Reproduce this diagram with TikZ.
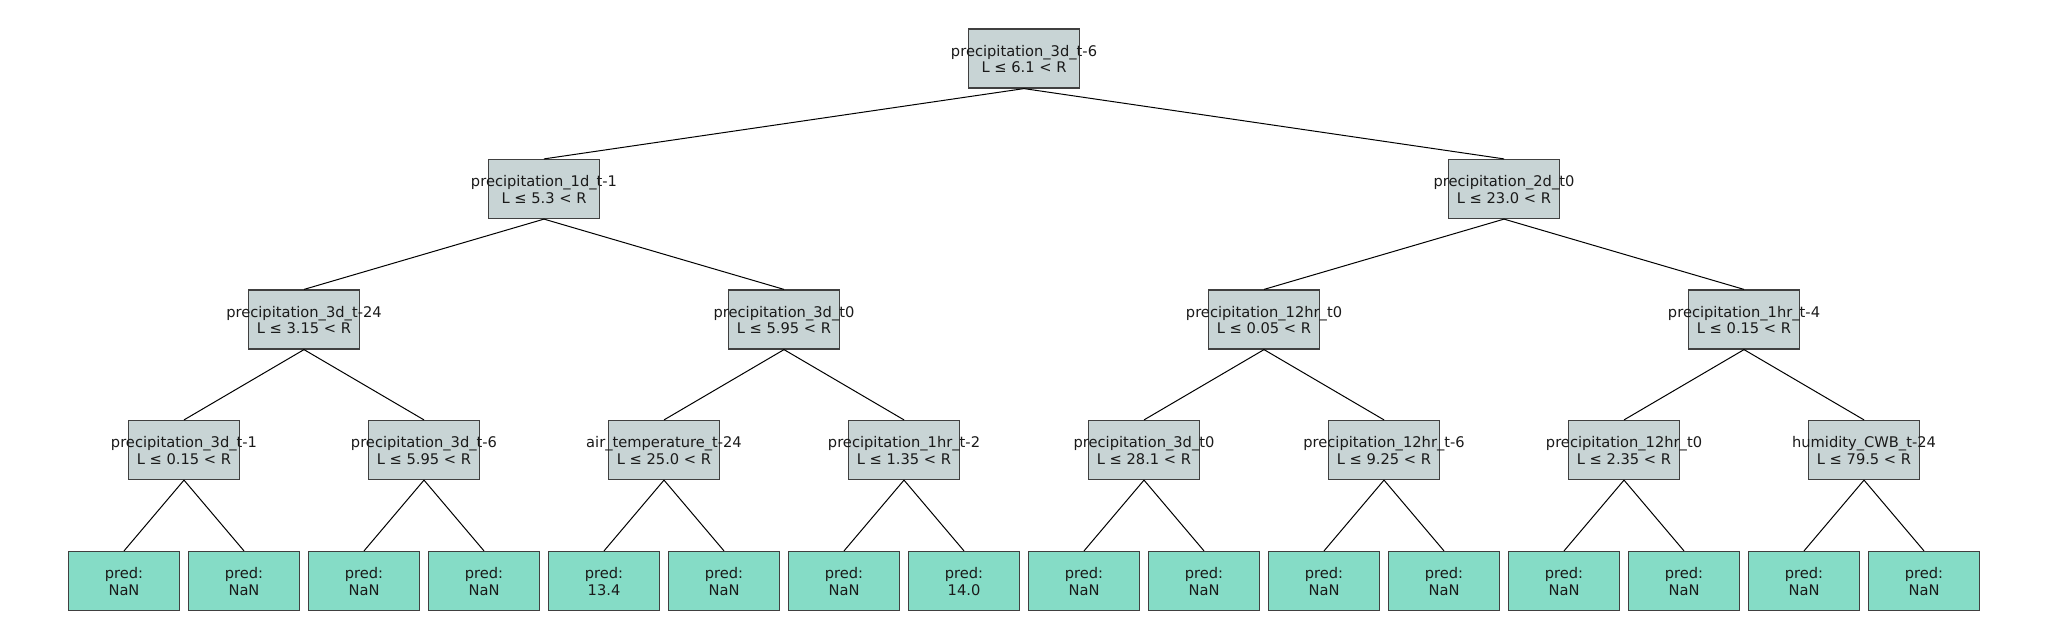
\documentclass[tikz,border=0pt]{standalone}
\usepackage{fontspec}
\setmainfont{DejaVu Sans}
\definecolor{splitfill}{HTML}{C8D4D5}
\definecolor{leaffill}{HTML}{85DCC6}
\definecolor{boxedge}{HTML}{404040}
\definecolor{txt}{HTML}{1A1A1A}
\newcommand{\twolines}[2]{\makebox[0pt]{\fontsize{11}{12.2}\selectfont\raisebox{1.7pt}[0pt][0pt]{\begin{tabular}[t]{@{}c@{}}#1\\#2\end{tabular}}}}
\begin{document}
\begin{tikzpicture}[x=0.75pt,y=-0.75pt,
  boxbase/.style={draw=boxedge,line width=0.9pt,rectangle,inner sep=0pt,
    minimum width=82.9pt,minimum height=44.25pt,text=txt,font=\fontsize{11}{12.2}\selectfont},
  splitbox/.style={boxbase,fill=splitfill},
  leafbox/.style={boxbase,fill=leaffill},
  edge/.style={draw=black,line width=0.75pt}]
\useasboundingbox (0,0) rectangle (2048,640);
% root
\node[splitbox] (r) at (1024,58.5) {\twolines{precipitation\_3d\_t-6}{L ≤ 6.1 < R}};
% level 1
\node[splitbox] (a1) at (544,189) {\twolines{precipitation\_1d\_t-1}{L ≤ 5.3 < R}};
\node[splitbox] (a2) at (1504,189) {\twolines{precipitation\_2d\_t0}{L ≤ 23.0 < R}};
% level 2
\node[splitbox] (b1) at (304,319.5) {\twolines{precipitation\_3d\_t-24}{L ≤ 3.15 < R}};
\node[splitbox] (b2) at (784,319.5) {\twolines{precipitation\_3d\_t0}{L ≤ 5.95 < R}};
\node[splitbox] (b3) at (1264,319.5) {\twolines{precipitation\_12hr\_t0}{L ≤ 0.05 < R}};
\node[splitbox] (b4) at (1744,319.5) {\twolines{precipitation\_1hr\_t-4}{L ≤ 0.15 < R}};
% level 3
\node[splitbox] (c1) at (184,450) {\twolines{precipitation\_3d\_t-1}{L ≤ 0.15 < R}};
\node[splitbox] (c2) at (424,450) {\twolines{precipitation\_3d\_t-6}{L ≤ 5.95 < R}};
\node[splitbox] (c3) at (664,450) {\twolines{air\_temperature\_t-24}{L ≤ 25.0 < R}};
\node[splitbox] (c4) at (904,450) {\twolines{precipitation\_1hr\_t-2}{L ≤ 1.35 < R}};
\node[splitbox] (c5) at (1144,450) {\twolines{precipitation\_3d\_t0}{L ≤ 28.1 < R}};
\node[splitbox] (c6) at (1384,450) {\twolines{precipitation\_12hr\_t-6}{L ≤ 9.25 < R}};
\node[splitbox] (c7) at (1624,450) {\twolines{precipitation\_12hr\_t0}{L ≤ 2.35 < R}};
\node[splitbox] (c8) at (1864,450) {\twolines{humidity\_CWB\_t-24}{L ≤ 79.5 < R}};
% leaves
\foreach \i/\v in {1/NaN,2/NaN,3/NaN,4/NaN,5/13.4,6/NaN,7/NaN,8/14.0,9/NaN,10/NaN,11/NaN,12/NaN,13/NaN,14/NaN,15/NaN,16/NaN}{
  \node[leafbox] (d\i) at ({124+120*(\i-1)},581) {\twolines{pred:}{\v}};
}
% edges
\draw[edge] (r.south) -- (a1.north);
\draw[edge] (r.south) -- (a2.north);
\draw[edge] (a1.south) -- (b1.north);
\draw[edge] (a1.south) -- (b2.north);
\draw[edge] (a2.south) -- (b3.north);
\draw[edge] (a2.south) -- (b4.north);
\draw[edge] (b1.south) -- (c1.north);
\draw[edge] (b1.south) -- (c2.north);
\draw[edge] (b2.south) -- (c3.north);
\draw[edge] (b2.south) -- (c4.north);
\draw[edge] (b3.south) -- (c5.north);
\draw[edge] (b3.south) -- (c6.north);
\draw[edge] (b4.south) -- (c7.north);
\draw[edge] (b4.south) -- (c8.north);
\foreach \p/\l/\rr in {1/1/2,2/3/4,3/5/6,4/7/8,5/9/10,6/11/12,7/13/14,8/15/16}{
  \draw[edge] (c\p.south) -- (d\l.north);
  \draw[edge] (c\p.south) -- (d\rr.north);
}
\end{tikzpicture}
\end{document}
